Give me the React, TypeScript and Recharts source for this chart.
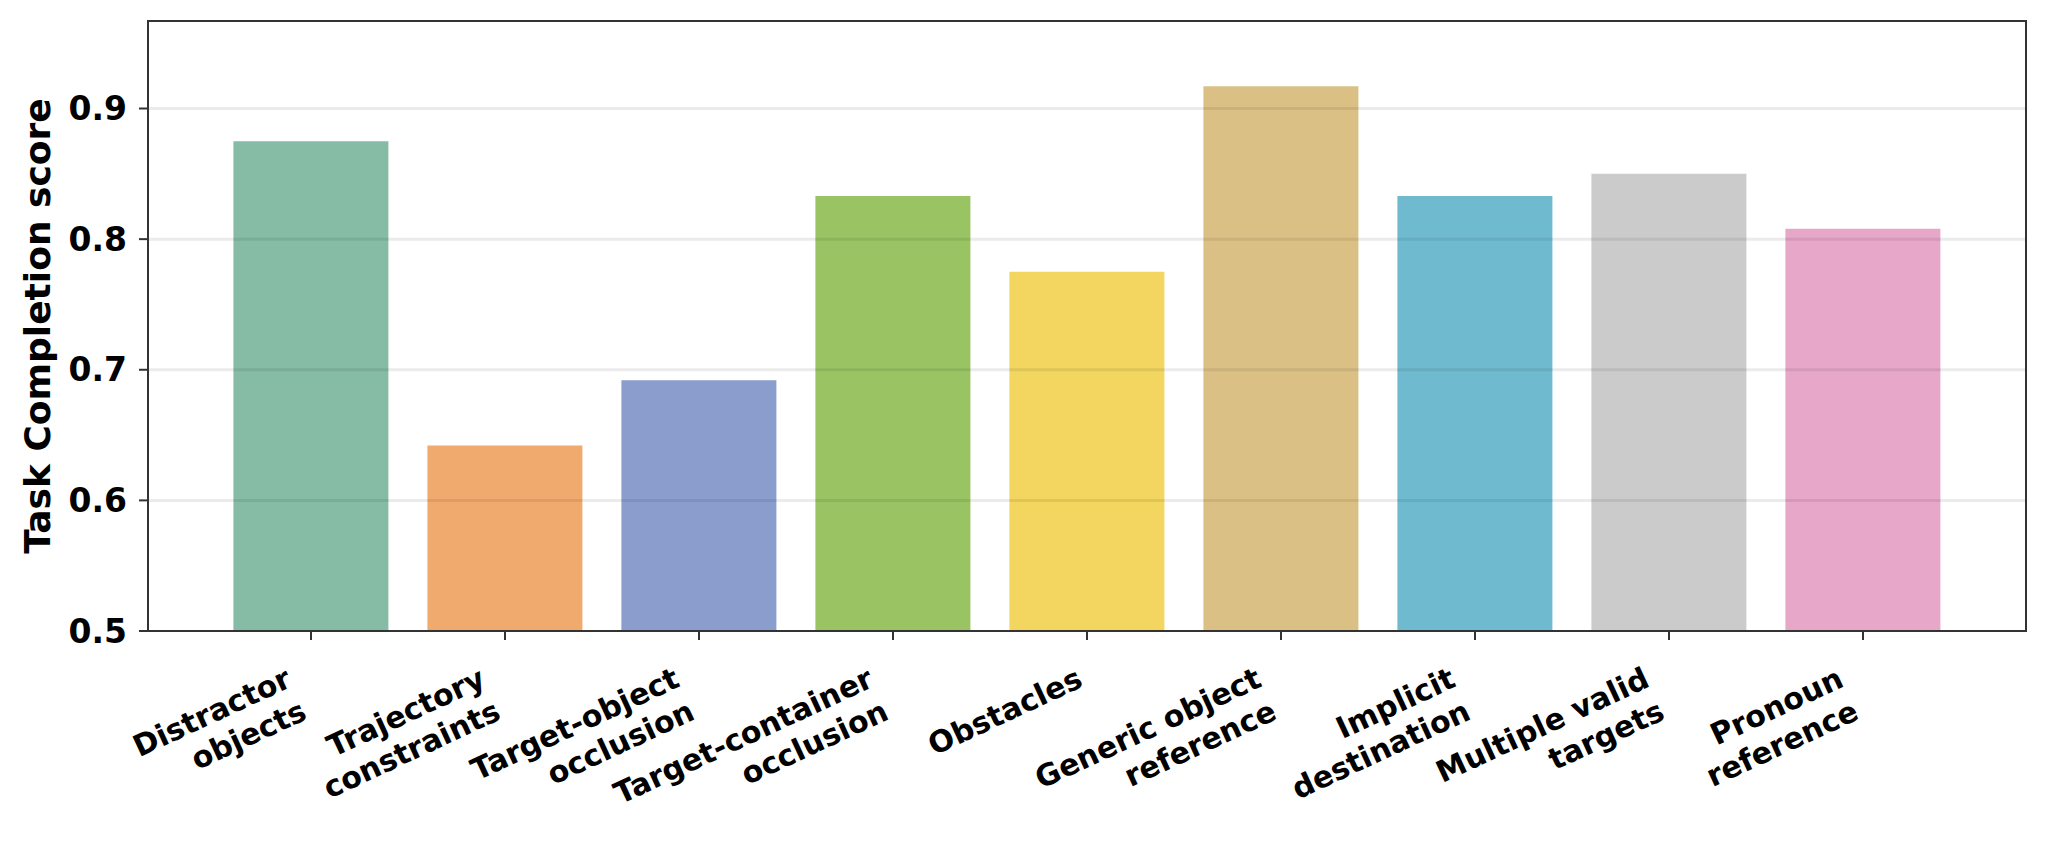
import { BarChart, Bar, XAxis, YAxis, Cell, ReferenceLine } from 'recharts'

// categories, values and colours
const categories = [
  'Distractor\nobjects',
  'Trajectory\nconstraints',
  'Target-object\nocclusion',
  'Target-container\nocclusion',
  'Obstacles',
  'Generic object\nreference',
  'Implicit\ndestination',
  'Multiple valid\ntargets',
  'Pronoun\nreference',
]
const scores = [0.875, 0.642, 0.692, 0.833, 0.775, 0.917, 0.833, 0.85, 0.808]
const barColors = [
  '#86BBA5',
  '#F0AA6E',
  '#8A9DCD',
  '#9AC463',
  '#F2D660',
  '#DAC085',
  '#6FBACF',
  '#CBCBCB',
  '#E7A7C8',
]
const yTicks = [0.5, 0.6, 0.7, 0.8, 0.9]
const yDomain = [0.5, 0.967]

const data = categories.map((name, i) => ({ name, score: scores[i], color: barColors[i] }))

const FONT = '"DejaVu Sans", sans-serif'
const ANGLE = 25
const X_FS = 30
const LINE = X_FS * 1.2

function RotatedTick(props: any) {
  const { x, y, payload } = props
  const lines = String(payload.value).split('\n')
  const rad = (ANGLE * Math.PI) / 180
  const h = X_FS + (lines.length - 1) * LINE
  // top-right corner of the rotated block sits under the tick (ha='right')
  const tx = x - h * Math.sin(rad)
  return (
    <g transform={`translate(${tx},${y}) rotate(${-ANGLE})`}>
      <text
        textAnchor="end"
        fontFamily={FONT}
        fontWeight="bold"
        fontSize={X_FS}
        fill="#000"
      >
        {lines.map((ln, i) => (
          <tspan key={i} x={0} y={X_FS * 0.8 + i * LINE}>
            {ln}
          </tspan>
        ))}
      </text>
    </g>
  )
}

function YLabel() {
  return (
    <text
      x={37}
      y={326}
      transform="rotate(-90, 37, 326)"
      textAnchor="middle"
      dominantBaseline="central"
      fontFamily={FONT}
      fontWeight="bold"
      fontSize={36}
      fill="#000"
    >
      Task Completion score
    </text>
  )
}

export default function App() {
  return (
    <div style={{ position: 'absolute', left: 0, top: 0, width: 2049, height: 862, background: '#fff' }}>
      <BarChart
        width={2049}
        height={862}
        data={data}
        margin={{ top: 21, right: 23, left: 48, bottom: 31 }}
        barCategoryGap="10%"
      >
        <XAxis
          dataKey="name"
          height={200}
          interval={0}
          padding={{ left: 66, right: 66 }}
          tick={<RotatedTick />}
          tickSize={9}
          tickMargin={24}
          tickLine={{ stroke: '#333', strokeWidth: 2 }}
          axisLine={{ stroke: '#333', strokeWidth: 2 }}
        />
        <YAxis
          width={100}
          type="number"
          domain={yDomain}
          ticks={yTicks}
          allowDataOverflow
          tickFormatter={(v: number) => v.toFixed(1)}
          tick={{ fontFamily: FONT, fontWeight: 'bold', fontSize: 33, fill: '#000' }}
          tickSize={9}
          tickMargin={12}
          tickLine={{ stroke: '#333', strokeWidth: 2 }}
          axisLine={{ stroke: '#333', strokeWidth: 2 }}
          label={<YLabel />}
        />
        <Bar dataKey="score" isAnimationActive={false}>
          {data.map((d, i) => (
            <Cell key={i} fill={d.color} />
          ))}
        </Bar>
        {yTicks.slice(1).map((t) => (
          <ReferenceLine key={t} y={t} stroke="#000" strokeOpacity={0.08} strokeWidth={3} />
        ))}
      </BarChart>
      <div
        style={{
          position: 'absolute',
          left: 147,
          top: 20,
          width: 1880,
          height: 612,
          boxSizing: 'border-box',
          border: '2px solid #333',
          pointerEvents: 'none',
        }}
      />
    </div>
  )
}
